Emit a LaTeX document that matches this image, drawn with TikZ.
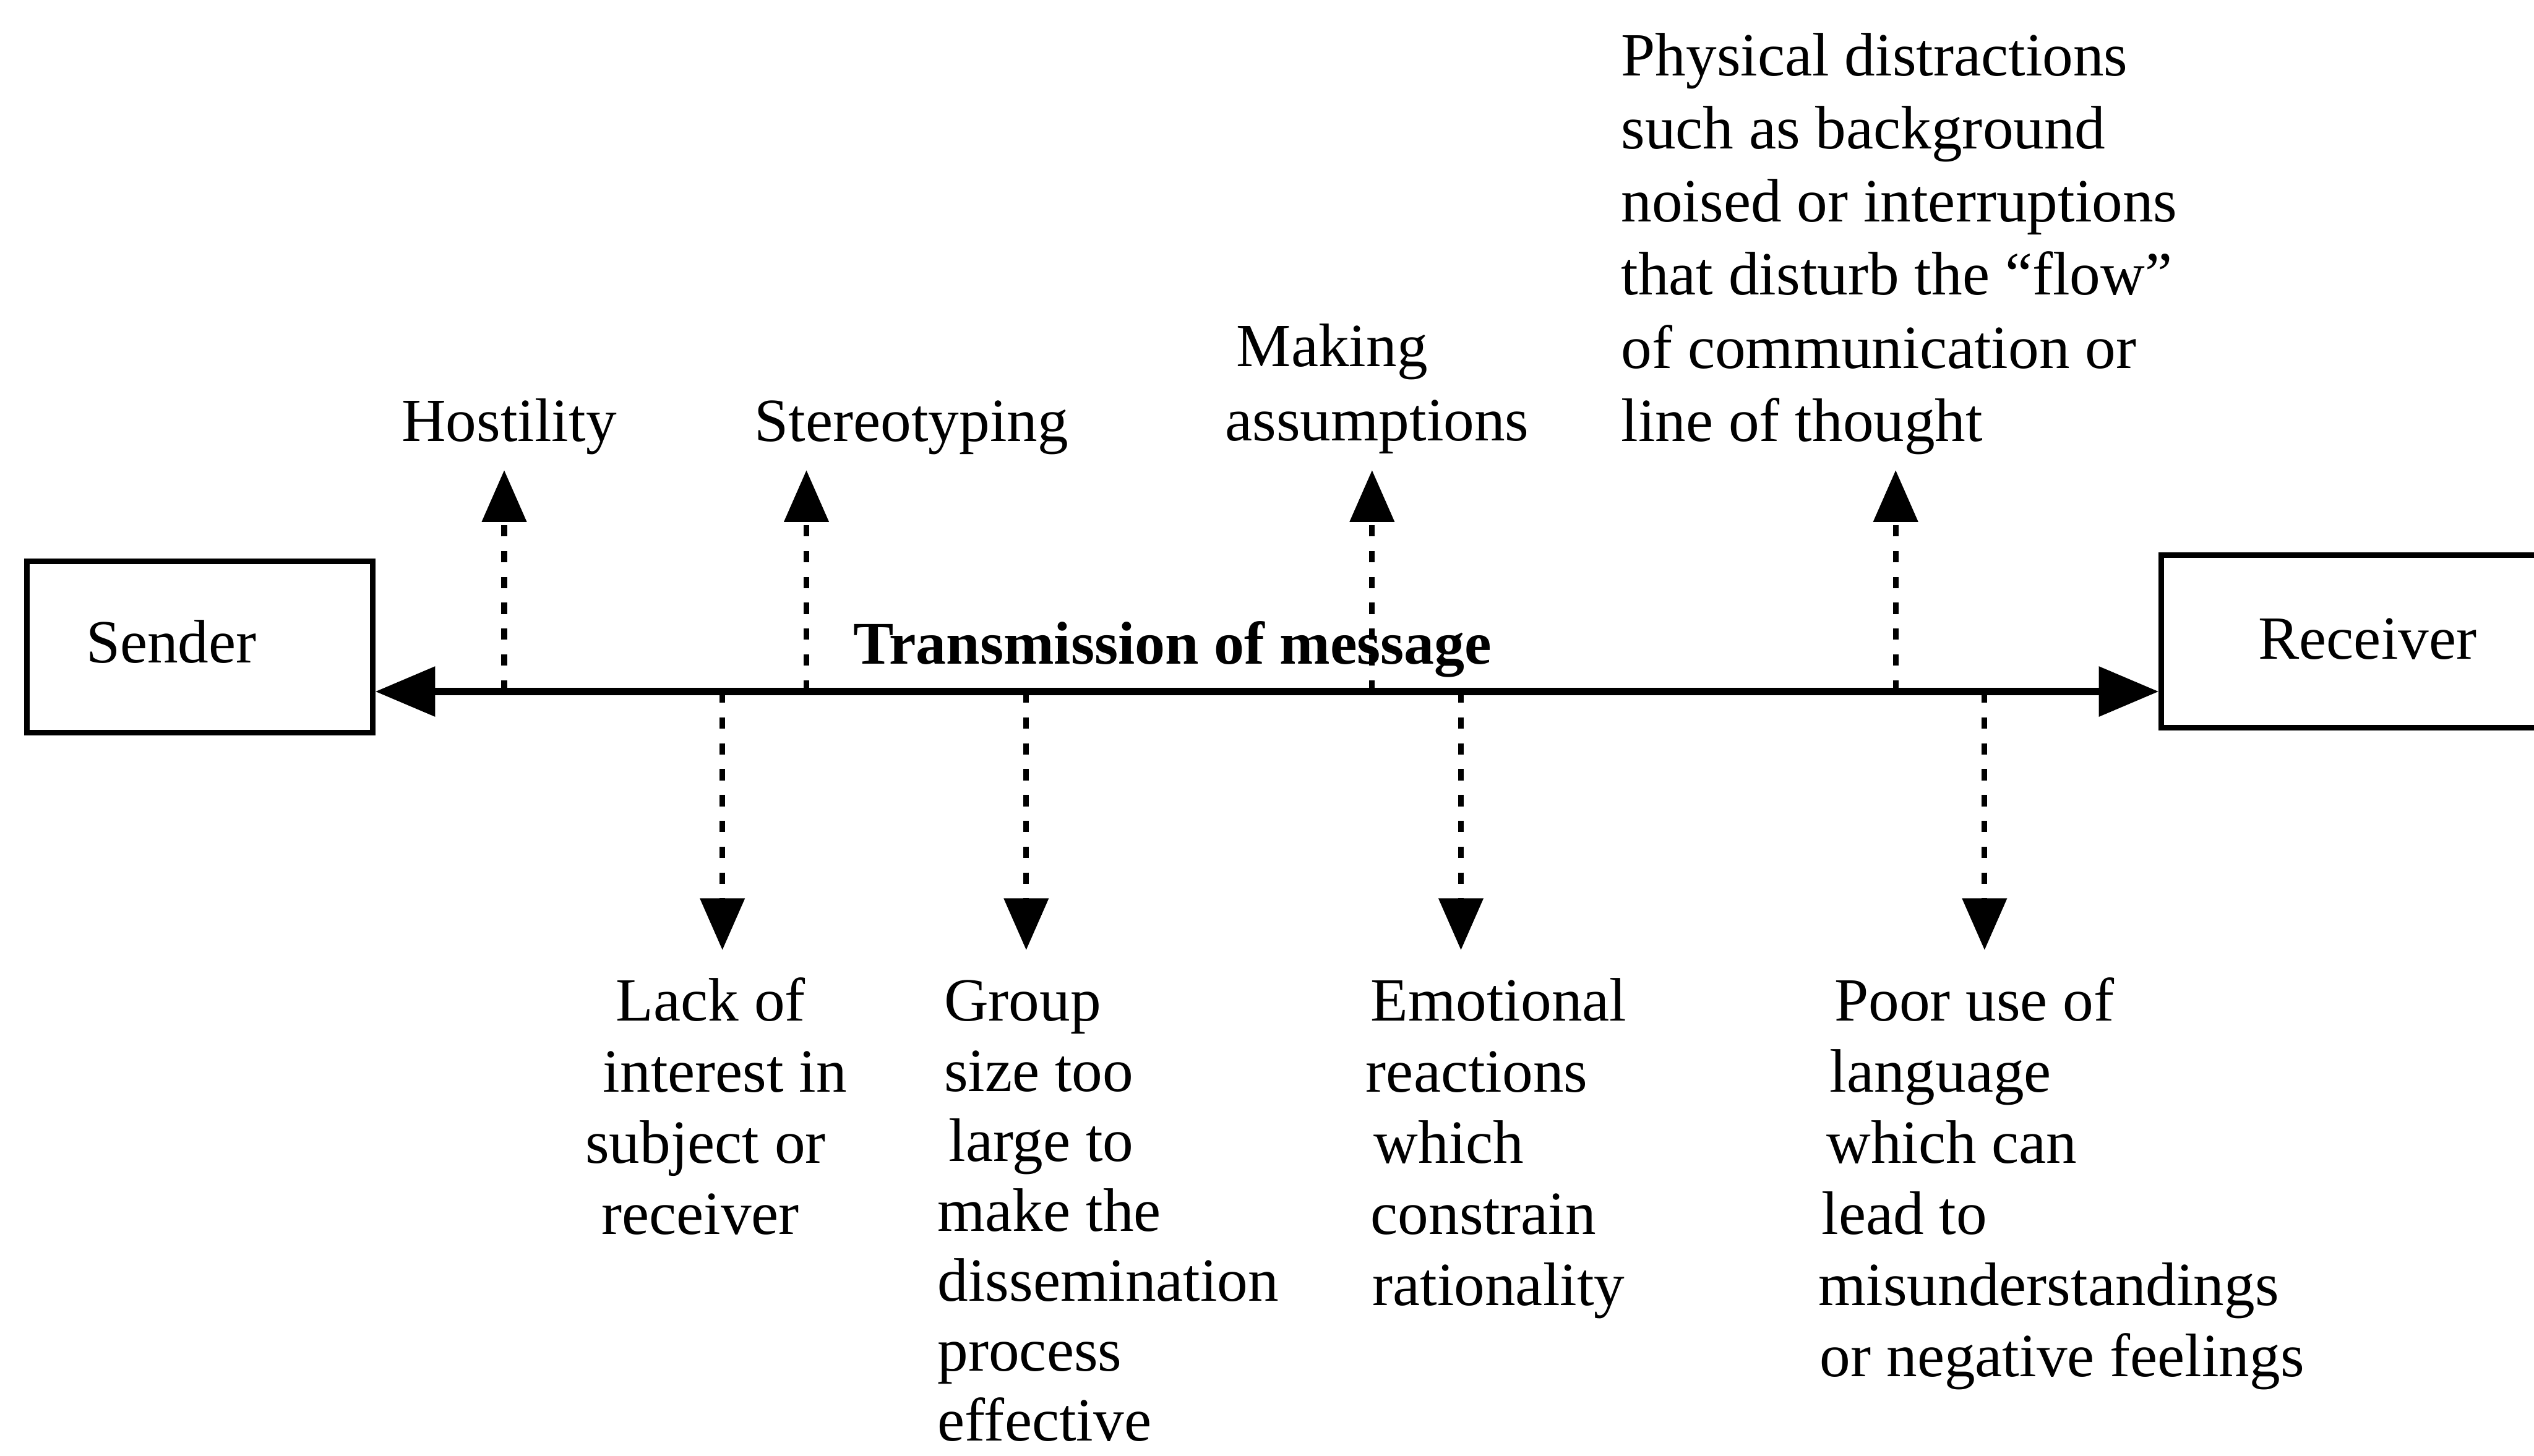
\documentclass[tikz,border=0pt]{standalone}
\usepackage{fontspec}
\setmainfont{Liberation Serif}
\usetikzlibrary{arrows.meta}

\begin{document}
\begin{tikzpicture}[x=1pt,y=-1pt,
  box/.style={draw, line width=3.5pt, rectangle, inner sep=0pt},
  txt/.style={inner sep=0pt, anchor=base west, font=\fontsize{38}{44}\selectfont},
  ctxt/.style={inner sep=0pt, anchor=base, font=\fontsize{38}{44}\selectfont},
  mainline/.style={line width=4.5pt,
    {Triangle[length=37pt,width=30pt]}-{Triangle[length=37pt,width=30pt]}},
  barrier/.style={line width=3.5pt, dash pattern=on 7pt off 9pt,
    -{Triangle[length=32pt,width=27pt]}},
]
\useasboundingbox (0,0) rectangle (1568,901);
\clip (0,0) rectangle (1568,901);

% end points of the message channel
\node[box, minimum width=214pt, minimum height=106pt] (sender) at (123.5,400.5) {};
\node[ctxt] (sendertext) at (106,410) {Sender};
\node[box, minimum width=255pt, minimum height=107pt] (receiver) at (1465,397) {};
\node[ctxt] (receivertext) at (1465,408) {Receiver};

% transmission line
\coordinate (mline) at (0,428);
\draw[mainline] (sender.east |- mline) coordinate (chL) -- (receiver.west |- mline) coordinate (chR);
\node[ctxt, font=\fontsize{37.5}{44}\selectfont\bfseries] (transmission) at (725.5,411) {Transmission of message};

% barriers above the line
\coordinate (uHost) at (312,291);
\coordinate (uStereo) at (499,291);
\coordinate (uAssume) at (849,291);
\coordinate (uPhys) at (1173,291);
\foreach \c in {uHost,uStereo,uAssume,uPhys}
  \draw[barrier] (\c |- mline) -- (\c);

\node[ctxt] (hostility) at (315,273) {Hostility};
\node[ctxt] (stereotyping) at (564,273) {Stereotyping};
\node[txt, font=\fontsize{38}{46}\selectfont] (assumptions) at (758,226.8) {\begin{tabular}[t]{@{}l@{}}\hspace*{7pt}Making\\assumptions\end{tabular}};
\node[txt, font=\fontsize{38}{45.2}\selectfont] (physical) at (1003,47) {\begin{tabular}[t]{@{}l@{}}Physical distractions\\such as background\\noised or interruptions\\that disturb the “flow”\\of communication or\\line of thought\end{tabular}};

% barriers below the line
\coordinate (dLack) at (447,588);
\coordinate (dGroup) at (635,588);
\coordinate (dEmo) at (904,588);
\coordinate (dLang) at (1228,588);
\foreach \c in {dLack,dGroup,dEmo,dLang}
  \draw[barrier] (\c |- mline) -- (\c);

\node[txt] (lack) at (362,632) {\begin{tabular}[t]{@{}l@{}}\hspace*{19pt}Lack of\\\hspace*{11pt}interest in\\subject or\\\hspace*{10pt}receiver\end{tabular}};
\node[txt, font=\fontsize{38}{43.3}\selectfont] (group) at (580,632) {\begin{tabular}[t]{@{}l@{}}\hspace*{4pt}Group\\\hspace*{4pt}size too\\\hspace*{7pt}large to\\make the\\dissemination\\process\\effective\end{tabular}};
\node[txt] (emotional) at (845,632) {\begin{tabular}[t]{@{}l@{}}\hspace*{3pt}Emotional\\reactions\\\hspace*{5pt}which\\\hspace*{3pt}constrain\\\hspace*{4pt}rationality\end{tabular}};
\node[txt] (language) at (1125,632) {\begin{tabular}[t]{@{}l@{}}\hspace*{10pt}Poor use of\\\hspace*{7pt}language\\\hspace*{5pt}which can\\\hspace*{2pt}lead to\\misunderstandings\\\hspace*{1pt}or negative feelings\end{tabular}};
\end{tikzpicture}
\end{document}
